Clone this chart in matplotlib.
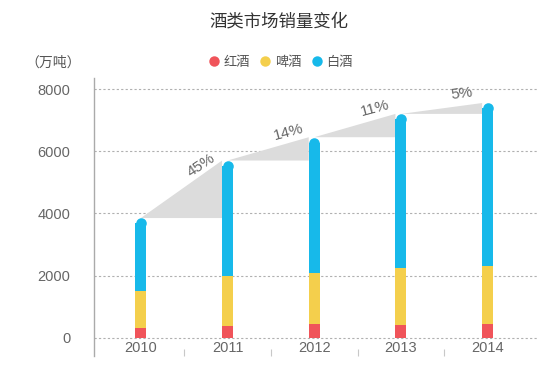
#!/usr/bin/env python
# Stacked sales bars with growth wedges between years
import math
import matplotlib
matplotlib.use('Agg')
import matplotlib.pyplot as plt
from matplotlib.lines import Line2D
from matplotlib.patches import Polygon

plt.rcParams['font.family'] = ['Liberation Sans', 'Noto Sans CJK SC', 'DejaVu Sans']

years = ['2010', '2011', '2012', '2013', '2014']
red_wine = [300, 380, 440, 410, 430]
beer = [1200, 1610, 1630, 1820, 1880]
liquor = [2350, 3710, 4380, 4970, 5240]
growth = ['45%', '14%', '11%', '5%']
series_names = ['红酒', '啤酒', '白酒']

RED = '#f0545a'
YELLOW = '#f4cf4c'
BLUE = '#17b9ea'
GREY_TXT = '#666666'

fig = plt.figure(figsize=(5.5, 3.74), dpi=100)
ax = fig.add_axes([0.171, 0.048, 0.807, 0.743])

x = list(range(len(years)))
width = 0.127
bottom2 = [r + b for r, b in zip(red_wine, beer)]
totals = [s + l for s, l in zip(bottom2, liquor)]

ax.set_xlim(-0.54, 4.58)
ax.set_ylim(-590, 8350)

# radius of rounded cap in data units (bar half width in px -> y units)
px_per_unit = ax.get_position().height * 374 / (8350 + 590)
cap_r = 5.3 / px_per_unit

ax.bar(x, red_wine, width, color=RED, zorder=3)
ax.bar(x, beer, width, bottom=red_wine, color=YELLOW, zorder=3)
ax.bar(x, [l - cap_r for l in liquor], width, bottom=bottom2, color=BLUE, zorder=3)
ax.plot(x, [t - cap_r for t in totals], 'o', color=BLUE, markersize=7.6,
        markeredgewidth=0, zorder=3)

# growth wedges
fig.canvas.draw()
for i in range(len(years) - 1):
    poly = Polygon([(x[i], totals[i]), (x[i + 1] - width / 2, totals[i + 1]),
                    (x[i + 1] - width / 2, totals[i])],
                   closed=True, facecolor='#dcdcdc', edgecolor='none', zorder=2)
    ax.add_patch(poly)
    p1 = ax.transData.transform((x[i], totals[i]))
    p2 = ax.transData.transform((x[i + 1], totals[i + 1]))
    ang = math.degrees(math.atan2(p2[1] - p1[1], p2[0] - p1[0]))
    f = 0.7
    tx = x[i] + f * (x[i + 1] - x[i])
    ty = totals[i] + f * (totals[i + 1] - totals[i])
    ax.annotate(growth[i], (tx, ty), xytext=(0, 9), textcoords='offset points',
                rotation=ang, rotation_mode='anchor', ha='center', va='center',
                fontsize=11, color=GREY_TXT, zorder=4)

# axes styling
ax.set_yticks([0, 2000, 4000, 6000, 8000])
ax.grid(axis='y', color='#b0b0b0', linestyle=(0, (2, 2)), linewidth=0.8, zorder=1)
ax.tick_params(axis='y', length=0, pad=17, labelsize=10.5, labelcolor=GREY_TXT)
ax.set_xticks(x)
ax.set_xticklabels(years)
ax.tick_params(axis='x', length=0, pad=-10.5, labelsize=10.5, labelcolor=GREY_TXT)
ax.set_xticks([0.5, 1.5, 2.5, 3.5], minor=True)
ax.tick_params(axis='x', which='minor', direction='in', length=5, width=0.8,
               color='#c8c8c8')
for s in ['top', 'right', 'bottom']:
    ax.spines[s].set_visible(False)
ax.spines['left'].set_color('#aaaaaa')
ax.spines['left'].set_linewidth(1)

fig.text(0.507, 0.944, '酒类市场销量变化', ha='center', va='center',
         fontsize=12.5, color='#333333')
fig.text(0.097, 0.832, '（万吨）', ha='center', va='center', fontsize=10,
         color='#555555')

handles = [Line2D([], [], marker='o', linestyle='none', markersize=7.5,
                  markeredgewidth=0, color=c) for c in (RED, YELLOW, BLUE)]
leg = fig.legend(handles, series_names, loc='center', bbox_to_anchor=(0.508, 0.832),
                 ncol=3, frameon=False, fontsize=9.5, handletextpad=0.1,
                 columnspacing=0.6, handlelength=1.2)
for t in leg.get_texts():
    t.set_color('#555555')

fig.savefig('out.png', dpi=100)
